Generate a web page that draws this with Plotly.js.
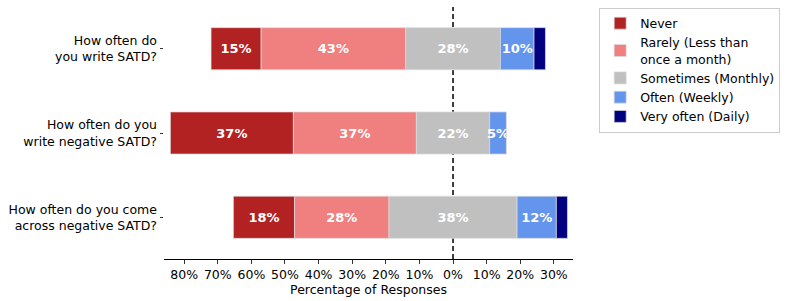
<!DOCTYPE html>
<html>
<head>
<meta charset="utf-8">
<script src="https://cdn.plot.ly/plotly-3.0.1.min.js"></script>
<style>html,body{margin:0;padding:0;background:#fff;}#chart{width:789px;height:301px;}</style>
</head>
<body>
<div id="chart"></div>
<script>
const questions = [
  "How often do<br>you write SATD?",
  "How often do you<br>write negative SATD?",
  "How often do you come<br>across negative SATD?"
];
const categories = ["Never", "Rarely (Less than<br>once a month)", "Sometimes (Monthly)", "Often (Weekly)", "Very often (Daily)"];
const never     = [14.9, 36.6, 18.2];
const rarely    = [43.0, 36.6, 28.1];
const sometimes = [28.2, 21.8, 38.1];
const often     = [10.0, 5.0, 11.7];
const veryOften = [3.4, 0.0, 3.3];
const tickVals  = [-80, -70, -60, -50, -40, -30, -20, -10, 0, 10, 20, 30];
const tickText  = ["80%", "70%", "60%", "50%", "40%", "30%", "20%", "10%", "0%", "10%", "20%", "30%"];

const colors = ["#b22222", "#f08080", "#c0c0c0", "#6495ed", "#000080"];
const series = [never, rarely, sometimes, often, veryOften];

const leftOffset = questions.map((q, i) => never[i] + rarely[i] + sometimes[i] / 2);
const cum = questions.map((q, i) => -leftOffset[i]);
const yIdx = questions.map((q, i) => i);

const traces = series.map((vals, k) => {
  const base = cum.slice();
  vals.forEach((v, i) => { cum[i] += v; });
  return {
    type: "bar",
    orientation: "h",
    name: categories[k],
    y: yIdx,
    x: vals,
    base: base,
    width: 0.5,
    marker: {color: colors[k], line: {color: "rgba(220,220,220,0.9)", width: 0.8}},
    text: vals.map(v => (k < 4 && v >= 4.5) ? Math.round(v) + "%" : ""),
    textposition: "inside",
    insidetextanchor: "middle",
    textangle: 0,
    constraintext: "none",
    textfont: {color: "#ffffff", size: 13, family: "DejaVu Sans", weight: "bold"},
    cliponaxis: false,
    hoverinfo: "none"
  };
});

const layout = {
  width: 789,
  height: 301,
  margin: {l: 164, r: 216, t: 7, b: 42},
  barmode: "overlay",
  paper_bgcolor: "#ffffff",
  plot_bgcolor: "#ffffff",
  font: {family: "DejaVu Sans", size: 12.5, color: "#000000"},
  showlegend: true,
  legend: {
    x: 1.064, y: 0.998, xanchor: "left", yanchor: "top",
    bordercolor: "#cccccc", borderwidth: 1,
    font: {size: 12.5, family: "DejaVu Sans"},
    tracegroupgap: 0,
    traceorder: "normal"
  },
  xaxis: {
    range: [-86, 35.7],
    tickvals: tickVals,
    ticktext: tickText,
    ticks: "outside", ticklen: 3.5, tickcolor: "#000", tickwidth: 0.8,
    showline: true, linecolor: "#000", linewidth: 1,
    showgrid: false, zeroline: false,
    title: {text: "Percentage of Responses", font: {size: 12.5}, standoff: 4},
    tickfont: {size: 12.5}
  },
  yaxis: {
    range: [2.495, -0.495],
    tickvals: yIdx,
    ticktext: questions,
    ticks: "outside", ticklen: 3.5, tickcolor: "#000", tickwidth: 0.8,
    showline: false, showgrid: false, zeroline: false,
    tickfont: {size: 12.5}
  },
  shapes: [{
    type: "line", xref: "x", yref: "paper", layer: "below",
    x0: 0, x1: 0, y0: 0, y1: 1,
    line: {color: "#000", width: 1.5, dash: "5px,3px"}
  }]
};

Plotly.newPlot("chart", traces, layout, {displayModeBar: false, staticPlot: true});
</script>
</body>
</html>
